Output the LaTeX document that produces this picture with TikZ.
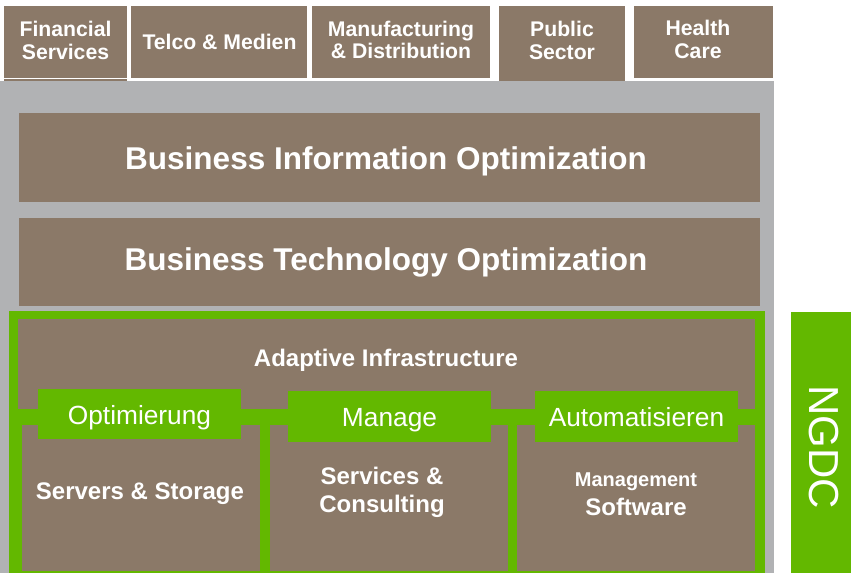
\documentclass[tikz,border=0pt]{standalone}
\usepackage{fontspec}
\setmainfont{Liberation Sans}
\definecolor{hpbrown}{RGB}{139,121,104}
\definecolor{hpgreen}{RGB}{99,184,0}
\definecolor{hpgray}{RGB}{177,178,180}
\begin{document}
\begin{tikzpicture}[x=1pt,y=-1pt,
  box/.style={fill=hpbrown, inner sep=0pt, outer sep=0pt},
  grn/.style={fill=hpgreen, inner sep=0pt, outer sep=0pt},
  toptxt/.style={text=white, inner sep=0pt, align=center, font=\bfseries\fontsize{21.2}{22.8}\selectfont},
  bigtxt/.style={text=white, inner sep=0pt, anchor=base, font=\bfseries\fontsize{31.5}{36}\selectfont},
  tabtxt/.style={text=white, inner sep=0pt, anchor=base, font=\fontsize{26.3}{30}\selectfont},
  lbl/.style={text=white, inner sep=0pt, anchor=base, font=\bfseries\fontsize{24}{29}\selectfont}]
\useasboundingbox (0,0) rectangle (851,573);
% top industry boxes
\node[box, minimum width=123pt, minimum height=72pt] (fin) at (65.5,42) {};
\node[box, minimum width=176pt, minimum height=72pt] (telco) at (219,42) {};
\node[box, minimum width=178pt, minimum height=72pt] (manu) at (401,42) {};
\node[box, minimum width=126pt, minimum height=75pt] (pub) at (562,43.5) {};
\node[box, minimum width=139pt, minimum height=72pt] (health) at (703.5,42) {};
\node[toptxt] (fint) at (65.5,40.8) {Financial\\Services};
\node[toptxt] (telcot) at (219.5,41.5) {Telco \& Medien};
\node[toptxt] (manut) at (401,40) {Manufacturing\\\& Distribution};
\node[toptxt] (pubt) at (562,40.8) {Public\\Sector};
\node[toptxt] (healtht) at (698,39.8) {Health\\Care};
% gray background
\node[fill=hpgray, inner sep=0pt, outer sep=0pt, minimum width=774pt, minimum height=492pt, anchor=north west] (bg) at (0,81) {};
\fill[hpbrown] (4,78.5) rectangle (127,80.5);
% optimization layers
\node[box, minimum width=741pt, minimum height=89pt] (bio) at (389.5,157.5) {};
\node[bigtxt] (biot) at (386,169) {Business Information Optimization};
\node[box, minimum width=741pt, minimum height=88pt] (bto) at (389.5,262) {};
\node[bigtxt] (btot) at (386,270) {Business Technology Optimization};
% adaptive infrastructure
\node[grn, minimum width=756pt, minimum height=262pt] (frame) at (387,442) {};
\node[box, minimum width=737pt, minimum height=90pt] (ai) at (386.5,364) {};
\node[lbl] (ait) at (386,366.7) {Adaptive Infrastructure};
\node[box, minimum width=238pt, minimum height=146pt] (srv) at (141,498) {};
\node[box, minimum width=238pt, minimum height=146pt] (svc) at (389,498) {};
\node[box, minimum width=238pt, minimum height=146pt] (mgmt) at (636,498) {};
\node[grn, minimum width=203pt, minimum height=50pt] (opt) at (139.5,414) {};
\node[grn, minimum width=203pt, minimum height=51pt] (man) at (389.5,416.5) {};
\node[grn, minimum width=203pt, minimum height=51pt] (auto) at (636.5,416.5) {};
\node[tabtxt] (optt) at (139.5,424.7) {Optimierung};
\node[tabtxt] (mant) at (389.5,426.7) {Manage};
\node[tabtxt] (autot) at (636.5,426.7) {Automatisieren};
\node[lbl] (srvt) at (140,499) {Servers \& Storage};
\node[lbl] (svct1) at (382,484) {Services \&};
\node[lbl] (svct2) at (382,512.7) {Consulting};
\node[lbl, font=\bfseries\fontsize{20}{24}\selectfont] (mgmtt1) at (636,486.7) {Management};
\node[lbl] (mgmtt2) at (636,515) {Software};
% NGDC
\node[grn, minimum width=60pt, minimum height=261pt] (ngdc) at (821,442.5) {};
\node[text=white, inner sep=0pt, rotate=-90, font=\fontsize{42}{46}\selectfont] (ngdct) at (824,447) {NGDC};
\end{tikzpicture}
\end{document}
